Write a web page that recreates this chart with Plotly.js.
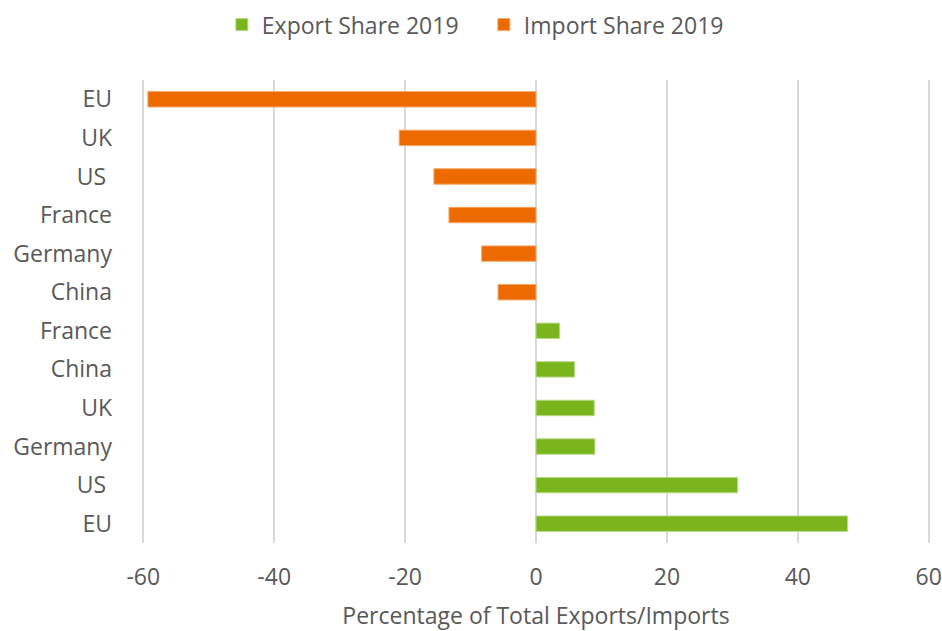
<!DOCTYPE html>
<html>
<head>
<meta charset="utf-8">
<script src="https://cdn.plot.ly/plotly-3.0.1.min.js"></script>
<style>html,body{margin:0;padding:0;background:#fff;}#chart{width:942px;height:631px;}</style>
</head>
<body>
<div id="chart"></div>
<script>
// Rows from top to bottom
const categories = ["EU", "UK", "US\u00a0", "France", "Germany", "China",
                    "France", "China", "UK", "Germany", "US\u00a0", "EU"];
const importRows = [0, 1, 2, 3, 4, 5];
const importShare = [-59.3, -20.9, -15.6, -13.3, -8.3, -5.8];
const exportRows = [6, 7, 8, 9, 10, 11];
const exportShare = [3.6, 5.9, 8.9, 9.0, 30.8, 47.6];
const xTicks = [-60, -40, -20, 0, 20, 40, 60];

const rowIndex = categories.map((c, i) => i);
const font = "Open Sans, sans-serif";
const grey = "#595959";
const fs = 23;

const traces = [
  {
    type: "bar", orientation: "h", name: "Export Share 2019",
    x: exportShare, y: exportRows, width: 0.4,
    marker: {color: "#7AB51D", line: {color: "#b8d98a", width: 1}},
    hoverinfo: "x+y"
  },
  {
    type: "bar", orientation: "h", name: "Import Share 2019",
    x: importShare, y: importRows, width: 0.4,
    marker: {color: "#EC6A00", line: {color: "#f4a866", width: 1}},
    hoverinfo: "x+y"
  }
];

const layout = {
  width: 942, height: 631,
  margin: {l: 142.2, r: 11.7, t: 79.5, b: 88, pad: 0, autoexpand: false},
  paper_bgcolor: "#fff", plot_bgcolor: "#fff",
  barmode: "overlay",
  font: {family: font, size: fs, color: grey},
  showlegend: true,
  legend: {
    orientation: "h",
    xref: "container", x: 0.2355, xanchor: "left",
    yref: "container", y: 0.995, yanchor: "top",
    font: {family: font, size: fs, color: grey},
    traceorder: "normal", entrywidth: 217, entrywidthmode: "pixels"
  },
  xaxis: {
    range: [-60.2, 60.2], tickvals: xTicks, ticktext: xTicks.map(String),
    showgrid: true, gridcolor: "#d9d9d9", gridwidth: 2,
    zeroline: false, showline: false, ticks: "",
    ticklabelstandoff: 18,
    tickfont: {family: font, size: fs, color: grey},
    title: {text: "Percentage of Total Exports/Imports", standoff: 20,
            font: {family: font, size: fs, color: grey}}
  },
  yaxis: {
    range: [11.5, -0.5], tickvals: rowIndex, ticktext: categories,
    showgrid: false, zeroline: false, showline: false, ticks: "",
    ticklabelstandoff: 29,
    tickfont: {family: font, size: fs, color: grey}
  }
};

Plotly.newPlot("chart", traces, layout, {displayModeBar: false, staticPlot: true});
</script>
</body>
</html>
